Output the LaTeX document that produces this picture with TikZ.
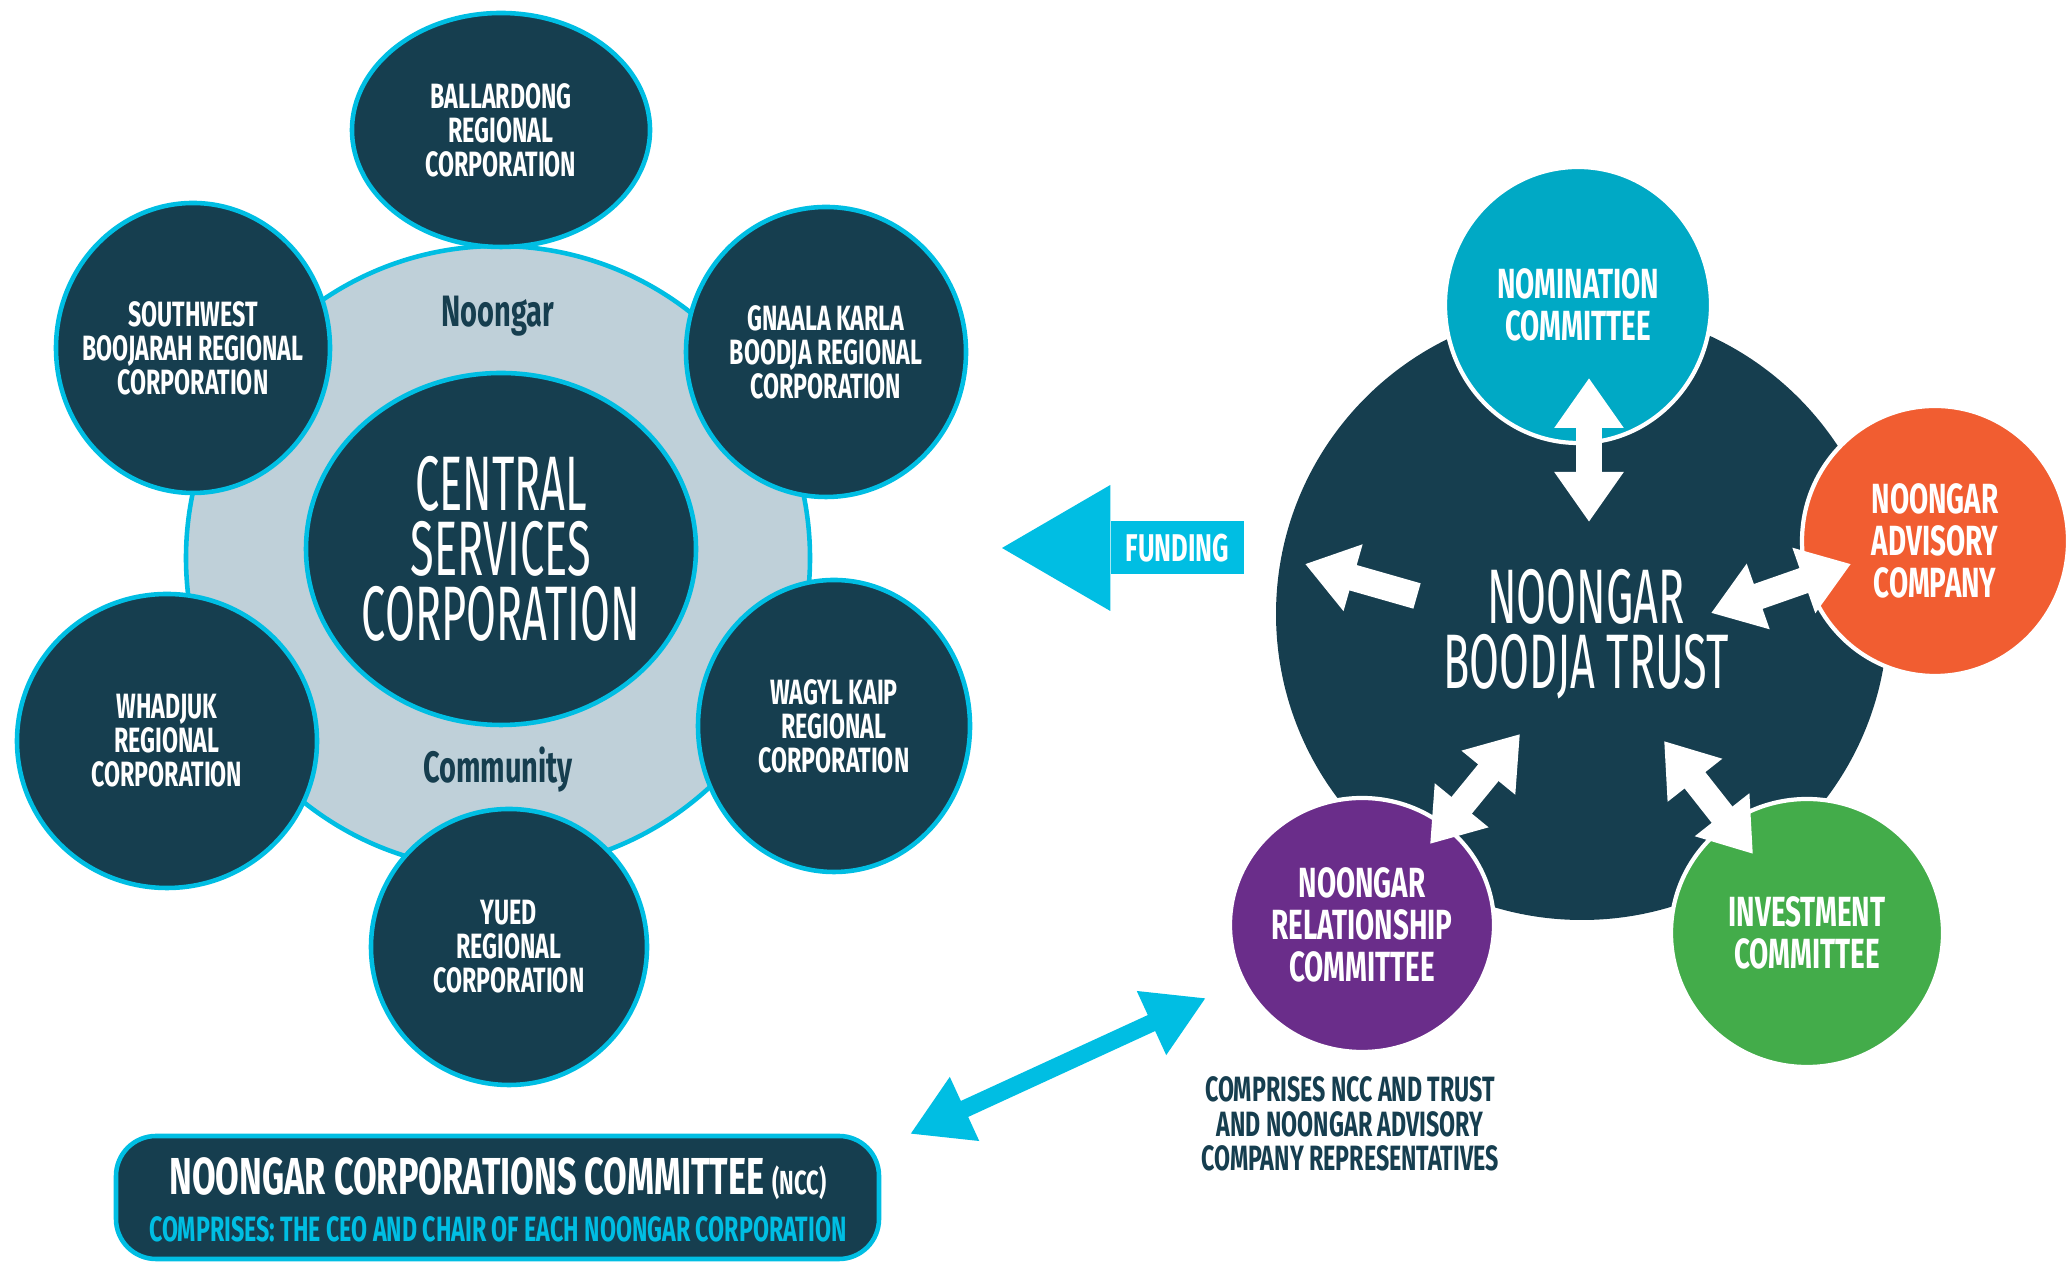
\documentclass[tikz,border=0pt]{standalone}
\usepackage{fontspec}
\setmainfont{Fira Sans}[FakeStretch=0.66]
\newfontfamily\handfont{Fira Sans}[FakeStretch=0.56]
\usetikzlibrary{shapes.geometric, arrows.meta}

\definecolor{ncnavy}{HTML}{163E4F}
\definecolor{ncgrey}{HTML}{BFD0D9}
\definecolor{nccyan}{HTML}{00BEE3}
\definecolor{ncteal}{HTML}{00A9C5}
\definecolor{ncorange}{HTML}{F15D31}
\definecolor{ncgreen}{HTML}{43AC4A}
\definecolor{ncpurple}{HTML}{6A2D8A}

\begin{document}
\begin{tikzpicture}[
        corp/.style={ellipse, fill=ncnavy, draw=nccyan, line width=1.3pt, text=white, align=center, inner sep=-5pt, font=\bfseries\fontsize{10}{9.7}\selectfont},
        cmte/.style={ellipse, draw=white, line width=1.2pt, text=white, align=center, inner sep=0pt, font=\bfseries\fontsize{12}{12}\selectfont},
        bigname/.style={text=white, align=center, font=\handfont\fontsize{22}{18.4}\selectfont},
        ringword/.style={text=ncnavy, font=\bfseries\fontsize{12.5}{12}\selectfont},
        fatarrow/.style={draw=white, line width=7.5pt, {Triangle[length=0.5cm, width=0.66cm]}-{Triangle[length=0.5cm, width=0.66cm]}},
        onearrow/.style={draw=white, line width=7.5pt, -{Triangle[length=0.5cm, width=0.66cm]}},
        nclink/.style={draw=nccyan, line width=5pt, {Triangle[length=0.6cm, width=0.66cm]}-{Triangle[length=0.6cm, width=0.66cm]}}
    ]
    \useasboundingbox (0,0) rectangle (20.67,12.62);

    \node[circle, fill=ncgrey, draw=nccyan, line width=1.3pt, minimum size=6.24cm, inner sep=0pt](ring) at (4.98, 7.04) {};
    \node[ringword](noongar) at (4.98, 9.46) {Noongar};
    \node[ringword](community) at (4.98, 4.92) {Community};
    \node[corp, minimum width=3.9cm, minimum height=3.52cm, font=\handfont\fontsize{22}{18.4}\selectfont](csc) at (5.01, 7.13) {CENTRAL\\SERVICES\\CORPORATION};

    \node[corp, minimum width=2.98cm, minimum height=2.34cm](ballardong) at (5.01, 11.32) {BALLARDONG\\REGIONAL\\CORPORATION};
    \node[corp, minimum width=2.74cm, minimum height=2.9cm](southwest) at (1.93, 9.14) {SOUTHWEST\\BOOJARAH REGIONAL\\CORPORATION};
    \node[corp, minimum width=2.8cm, minimum height=2.9cm](gnaala) at (8.26, 9.1) {GNAALA KARLA\\BOODJA REGIONAL\\CORPORATION};
    \node[corp, minimum width=3cm, minimum height=2.94cm](whadjuk) at (1.67, 5.21) {WHADJUK\\REGIONAL\\CORPORATION};
    \node[corp, minimum width=2.72cm, minimum height=2.92cm](wagyl) at (8.34, 5.36) {WAGYL KAIP\\REGIONAL\\CORPORATION};
    \node[corp, minimum width=2.76cm, minimum height=2.76cm](yued) at (5.09, 3.15) {YUED\\REGIONAL\\CORPORATION};

    \node[fill=nccyan, text=white, font=\bfseries\fontsize{11}{11}\selectfont, minimum width=1.33cm, minimum height=0.53cm, inner sep=0pt](funding) at (11.775, 7.14) {FUNDING};
    \coordinate (fundtip) at (10.02, 7.14);
    \fill[nccyan] ([yshift=0.63cm]funding.west) -- (fundtip) -- ([yshift=-0.63cm]funding.west) -- cycle;

    \node[circle, fill=ncnavy, minimum size=6.12cm, inner sep=0pt](trust) at (15.82, 6.48) {};
    \node[bigname](trustname) at (15.86, 6.28) {NOONGAR\\BOODJA TRUST};

    \node[cmte, fill=ncteal, minimum width=2.66cm, minimum height=2.76cm](nomination) at (15.78, 9.57) {NOMINATION\\COMMITTEE};
    \node[cmte, fill=ncorange, minimum width=2.66cm, minimum height=2.7cm](advisory) at (19.35, 7.21) {NOONGAR\\ADVISORY\\COMPANY};
    \node[cmte, fill=ncgreen, minimum width=2.72cm, minimum height=2.68cm](investment) at (18.07, 3.29) {INVESTMENT\\COMMITTEE};
    \node[cmte, fill=ncpurple, minimum width=2.64cm, minimum height=2.54cm](relationship) at (13.62, 3.37) {NOONGAR\\RELATIONSHIP\\COMMITTEE};

    \coordinate (nomtop) at (15.89, 8.84);
    \coordinate (nombot) at (15.89, 7.4);
    \coordinate (fundend) at (13.05, 6.98);
    \coordinate (fundstart) at (14.17, 6.66);
    \coordinate (advin) at (17.11, 6.49);
    \coordinate (advout) at (18.51, 6.98);
    \coordinate (relin) at (15.2, 5.28);
    \coordinate (relout) at (14.3, 4.18);
    \coordinate (invin) at (16.64, 5.21);
    \coordinate (invout) at (17.53, 4.08);
    \draw[fatarrow] (nomtop) -- (nombot);
    \draw[onearrow] (fundstart) -- (fundend);
    \draw[fatarrow] (advin) -- (advout);
    \draw[fatarrow] (relin) -- (relout);
    \draw[fatarrow] (invin) -- (invout);

    \node[text=ncnavy, align=center, font=\bfseries\fontsize{10}{9.8}\selectfont](relnote) at (13.5, 1.38) {COMPRISES NCC AND TRUST\\AND NOONGAR ADVISORY\\COMPANY REPRESENTATIVES};

    \node[fill=ncnavy, draw=nccyan, line width=1.3pt, rounded corners=0.4cm, minimum width=7.63cm, minimum height=1.23cm](ncc) at (4.975, 0.645) {};
    \node[text=white, font=\bfseries\fontsize{14.8}{14}\selectfont](nccname) at (4.98, 0.83) {NOONGAR CORPORATIONS COMMITTEE {\fontsize{9.5}{9.5}\selectfont(NCC)}};
    \node[text=nccyan, font=\bfseries\fontsize{10}{10}\selectfont](nccnote) at (4.98, 0.33) {COMPRISES: THE CEO AND CHAIR OF EACH NOONGAR CORPORATION};

    \coordinate (ncrel) at (12.06, 2.64);
    \coordinate (ncbox) at (9.1, 1.28);
    \draw[nclink] (ncrel) -- (ncbox);
\end{tikzpicture}
\end{document}
